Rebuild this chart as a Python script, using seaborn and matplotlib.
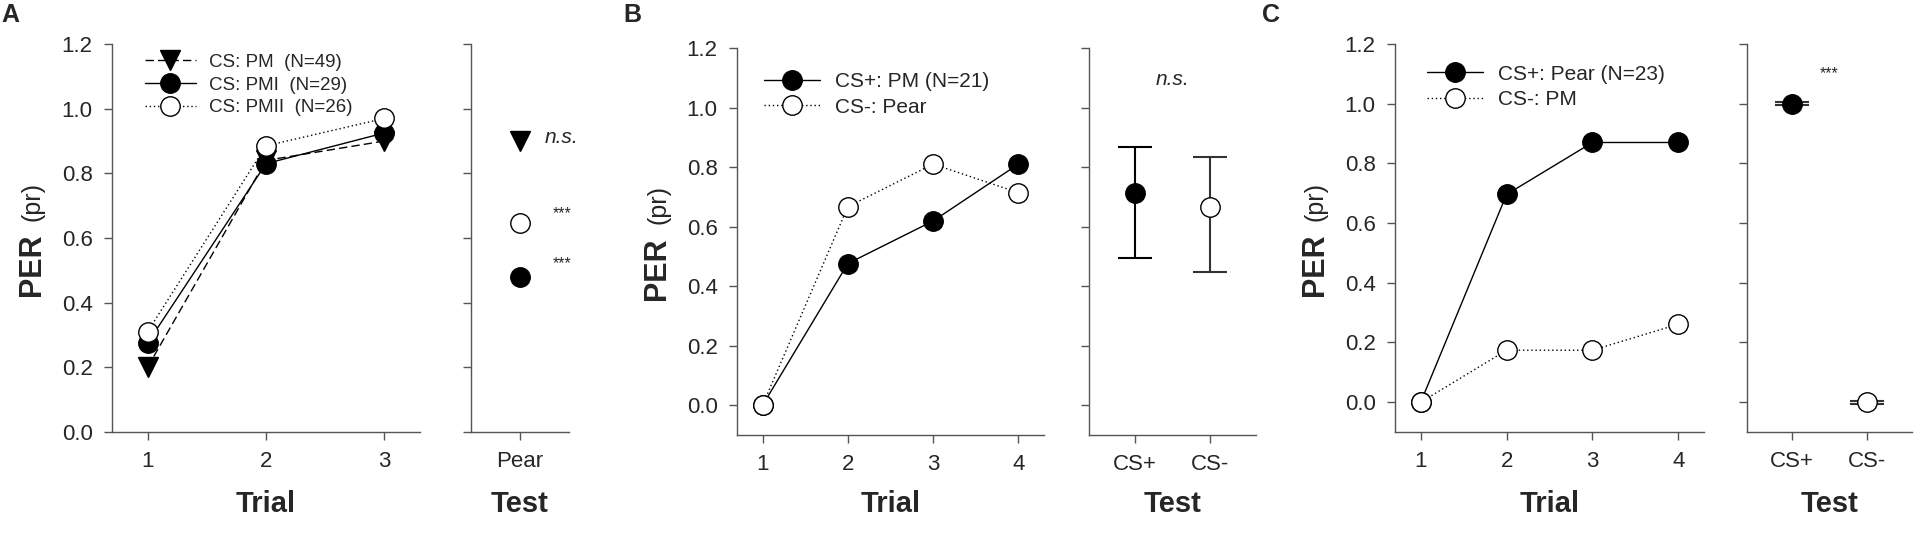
import numpy as np
import pandas as pd
import seaborn as sns
import matplotlib.pyplot as plt

# values
trials_a = [1, 2, 3]
pm_a = [0.20, 0.84, 0.90]
pmi_a = [0.275, 0.83, 0.925]
pmii_a = [0.31, 0.885, 0.97]
test_a_labels = ["Pear"]
test_a_pm = [0.90]
test_a_pmi = [0.48]
test_a_pmii = [0.645]

trials_bc = [1, 2, 3, 4]
test_labels = ["CS+", "CS-"]
b_plus = [0.0, 0.476, 0.619, 0.81]
b_minus = [0.0, 0.667, 0.81, 0.714]
b_test = [0.714, 0.667]
b_test_lo = [0.493, 0.447]
b_test_hi = [0.869, 0.834]

c_plus = [0.0, 0.696, 0.87, 0.87]
c_minus = [0.0, 0.174, 0.174, 0.261]
c_test = [1.0, 0.0]
c_test_err = [0.005, 0.005]

sns.set_theme(style="ticks")
plt.rcParams["font.family"] = ["Liberation Sans", "DejaVu Sans"]
plt.rcParams["axes.edgecolor"] = "#555555"
plt.rcParams["axes.linewidth"] = 1.0

W, H = 1915, 545
fig = plt.figure(figsize=(W / 100, H / 100), dpi=100)
GREY = "#555555"
TICK_FS = 16
MS = 14


def add_ax(x0, x1, ytop, ybot):
    return fig.add_axes([x0 / W, 1 - ybot / H, (x1 - x0) / W, (ybot - ytop) / H])


def style_ax(ax, ylim, show_ylabels=True):
    ax.set_ylim(*ylim)
    ax.set_yticks(np.arange(0, 1.21, 0.2))
    if show_ylabels:
        ax.set_yticklabels([f"{v:.1f}" for v in np.arange(0, 1.21, 0.2)])
    else:
        ax.set_yticklabels([])
    ax.tick_params(axis="both", direction="out", length=6, width=1, color=GREY,
                   labelsize=TICK_FS, pad=8)
    sns.despine(ax=ax)
    ax.set_xlabel("")
    ax.set_ylabel("")


def line(ax, x, y, ls, marker, fill, label):
    sns.lineplot(x=x, y=y, ax=ax, color="black", linestyle=ls, lw=1.0,
                 marker=marker, markersize=MS, markerfacecolor=fill,
                 markeredgecolor="black", markeredgewidth=1.0, label=label)


def xlab(ax, text, ytop, ybot):
    ax.set_xlabel(text, fontsize=21, fontweight="bold")
    ax.xaxis.set_label_coords(0.5, (ybot - 490) / (ybot - ytop))


def ylab(spine_x, ytop, ybot):
    # "PER" bold, "(pr)" regular, stacked along the rotated baseline
    y0 = (ytop + ybot) / 2 + 58
    fig.text((spine_x - 72) / W, 1 - y0 / H, "PER", fontsize=22,
             fontweight="bold", rotation=90, rotation_mode="anchor",
             ha="left", va="baseline")
    fig.text((spine_x - 72) / W, 1 - (y0 - 75) / H, "(pr)", fontsize=18,
             rotation=90, rotation_mode="anchor", ha="left", va="baseline")


def legend(ax, x, y, fs):
    return ax.legend(loc="upper left", bbox_to_anchor=(x, y), frameon=False,
                     fontsize=fs, borderpad=0, borderaxespad=0, handlelength=2.7,
                     handletextpad=0.7, labelspacing=0.3)


# ---------- A ----------
axA = add_ax(112, 420, 44, 432)
line(axA, trials_a, pm_a, (0, (6, 3)), "v", "black", "CS: PM  (N=49)")
line(axA, trials_a, pmi_a, "-", "o", "black", "CS: PMI  (N=29)")
line(axA, trials_a, pmii_a, (0, (1, 2)), "o", "white", "CS: PMII  (N=26)")
axA.set_xlim(0.7, 3.3)
axA.set_xticks(trials_a)
style_ax(axA, (0, 1.2))
legend(axA, 0.107, 0.975, 13.5)
xlab(axA, "Trial", 44, 432)
ylab(112, 44, 432)

axAt = add_ax(471, 569, 44, 432)
xa = [0]
axAt.plot(xa, test_a_pm, ls="none", marker="v", ms=MS, color="black")
axAt.plot(xa, test_a_pmii, ls="none", marker="o", ms=MS, mfc="white", mec="black")
axAt.plot(xa, test_a_pmi, ls="none", marker="o", ms=MS, color="black")
axAt.set_xlim(-1, 1)
axAt.set_xticks(xa)
axAt.set_xticklabels(test_a_labels)
style_ax(axAt, (0, 1.2), show_ylabels=False)
xlab(axAt, "Test", 44, 432)
axAt.text(0.5, test_a_pm[0] + 0.01, "n.s.", fontsize=15, style="italic", va="center", ha="left")
axAt.text(0.86, 0.675, "***", fontsize=11.5, ha="center", va="center", clip_on=False)
axAt.text(0.86, 0.52, "***", fontsize=11.5, ha="center", va="center", clip_on=False)

# ---------- B ----------
axB = add_ax(737, 1044, 48, 435)
line(axB, trials_bc, b_plus, "-", "o", "black", "CS+: PM (N=21)")
line(axB, trials_bc, b_minus, (0, (1, 2)), "o", "white", "CS-: Pear")
axB.set_xlim(0.7, 4.3)
axB.set_xticks(trials_bc)
style_ax(axB, (-0.1, 1.2))
legend(axB, 0.088, 0.937, 15)
xlab(axB, "Trial", 48, 435)
ylab(737, 48, 435)

axBt = add_ax(1089, 1256, 48, 435)
xt = [0, 1]
err_lo = np.array(b_test) - np.array(b_test_lo)
err_hi = np.array(b_test_hi) - np.array(b_test)
axBt.errorbar(xt[0], b_test[0], yerr=[[err_lo[0]], [err_hi[0]]], fmt="o", ms=MS,
              color="black", ecolor="black", elinewidth=1.5, capsize=12, capthick=1.5)
axBt.errorbar(xt[1], b_test[1], yerr=[[err_lo[1]], [err_hi[1]]], fmt="o", ms=MS,
              mfc="white", mec="black", ecolor="#333333", elinewidth=1.5, capsize=12,
              capthick=1.5)
axBt.set_xlim(-0.6, 1.6)
axBt.set_xticks(xt)
axBt.set_xticklabels(test_labels)
style_ax(axBt, (-0.1, 1.2), show_ylabels=False)
xlab(axBt, "Test", 48, 435)
axBt.text(0.5, 1.093, "n.s.", fontsize=15, style="italic", ha="center", va="center")

# ---------- C ----------
axC = add_ax(1395, 1704, 44, 432)
line(axC, trials_bc, c_plus, "-", "o", "black", "CS+: Pear (N=23)")
line(axC, trials_bc, c_minus, (0, (1, 2)), "o", "white", "CS-: PM")
axC.set_xlim(0.7, 4.3)
axC.set_xticks(trials_bc)
style_ax(axC, (-0.1, 1.2))
legend(axC, 0.104, 0.947, 15)
xlab(axC, "Trial", 44, 432)
ylab(1395, 44, 432)

axCt = add_ax(1747, 1912, 44, 432)
axCt.errorbar(xt[0], c_test[0], yerr=c_test_err[0], fmt="o", ms=MS, color="black",
              ecolor="#333333", elinewidth=1.5, capsize=12, capthick=1.5)
axCt.errorbar(xt[1], c_test[1], yerr=c_test_err[1], fmt="o", ms=MS, mfc="white",
              mec="black", ecolor="#333333", elinewidth=1.5, capsize=12, capthick=1.5)
axCt.set_xlim(-0.6, 1.6)
axCt.set_xticks(xt)
axCt.set_xticklabels(test_labels)
style_ax(axCt, (-0.1, 1.2), show_ylabels=False)
xlab(axCt, "Test", 44, 432)
axCt.text(0.5, 1.1, "***", fontsize=11.5, ha="center", va="center")

# panel letters
for x, letter in [(10, "A"), (632, "B"), (1271, "C")]:
    fig.text(x / W, 1 - 15 / H, letter, fontsize=18, fontweight="bold",
             ha="center", va="center")

fig.savefig("out.png", dpi=100)
